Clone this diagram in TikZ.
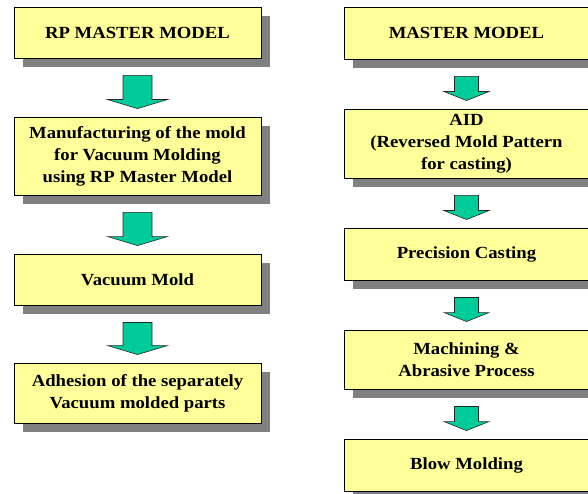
\documentclass[tikz,border=0pt]{standalone}
\usepackage{fontspec}
\setmainfont[FakeStretch=1.1]{Liberation Serif}
\usetikzlibrary{
    positioning,
    calc,
    shadows
}
\definecolor{BoxYellow}{RGB}{255,255,153}
\definecolor{ArrowGreen}{RGB}{0,204,153}
\definecolor{ShadowGray}{RGB}{128,128,128}

\tikzset{
    stepbox/.style={draw=black, line width=0.9pt, fill=BoxYellow, align=center,
        inner sep=0pt, font=\fontsize{17}{22}\selectfont\bfseries,
        drop shadow={shadow xshift=9pt, shadow yshift=-9pt, fill=ShadowGray, opacity=1}},
    flowarrow/.style={draw=black!85, line width=0.6pt, fill=ArrowGreen, line join=miter},
}

% block arrow: from node, to node, shaft half width, head half width
\newcommand{\blockarrow}[4]{%
    \draw[flowarrow] let \p1=($(#1.south)+(0,-17)$), \p2=($(#2.north)+(0,8)$) in
        (\x1-#3pt,\y1) -- (\x1+#3pt,\y1) -- (\x1+#3pt,\y2+9pt) -- (\x1+#4pt,\y2+9pt)
        -- (\x1,\y2) -- (\x1-#4pt,\y2+9pt) -- (\x1-#3pt,\y2+9pt) -- cycle;
}

\begin{document}
\begin{tikzpicture}[x=1pt, y=1pt]
    \useasboundingbox[fill=white] (0,0) rectangle (588,-494);
    \clip (0,0) rectangle (588,-494);

    % Left column: RP master model route
    \def\lx{137.5}
    \def\lw{247pt}
    \node[stepbox, minimum width=\lw, minimum height=51pt] (rpmaster) at (\lx,-32.5) {RP MASTER MODEL};
    \node[stepbox, minimum width=\lw, minimum height=78pt] (moldmfg) at (\lx,-156) {Manufacturing of the mold\\for Vacuum Molding\\using RP Master Model};
    \node[stepbox, minimum width=\lw, minimum height=51pt] (vacmold) at (\lx,-279.5) {Vacuum Mold};
    \node[stepbox, minimum width=\lw, minimum height=60pt] (adhesion) at (\lx,-393) {Adhesion of the separately\\Vacuum molded parts};

    \blockarrow{rpmaster}{moldmfg}{14.5}{30}
    \blockarrow{moldmfg}{vacmold}{14.5}{30}
    \blockarrow{vacmold}{adhesion}{14.5}{30}

    % Right column: master model route
    \def\rx{466.5}
    \def\rw{245pt}
    \node[stepbox, minimum width=\rw, minimum height=52pt] (master) at (\rx,-33) {MASTER MODEL};
    \node[stepbox, minimum width=\rw, minimum height=69pt] (aid) at (\rx,-143.5) {AID\\(Reversed Mold Pattern\\for casting)};
    \node[stepbox, minimum width=\rw, minimum height=52pt] (casting) at (\rx,-254) {Precision Casting};
    \node[stepbox, minimum width=\rw, minimum height=59pt] (machining) at (\rx,-359.5) {Machining \&\\Abrasive Process};
    \node[stepbox, minimum width=\rw, minimum height=52pt] (blow) at (\rx,-465) {Blow Molding};

    \blockarrow{master}{aid}{12}{22.5}
    \blockarrow{aid}{casting}{12}{22.5}
    \blockarrow{casting}{machining}{12}{22.5}
    \blockarrow{machining}{blow}{12}{22.5}
\end{tikzpicture}
\end{document}
